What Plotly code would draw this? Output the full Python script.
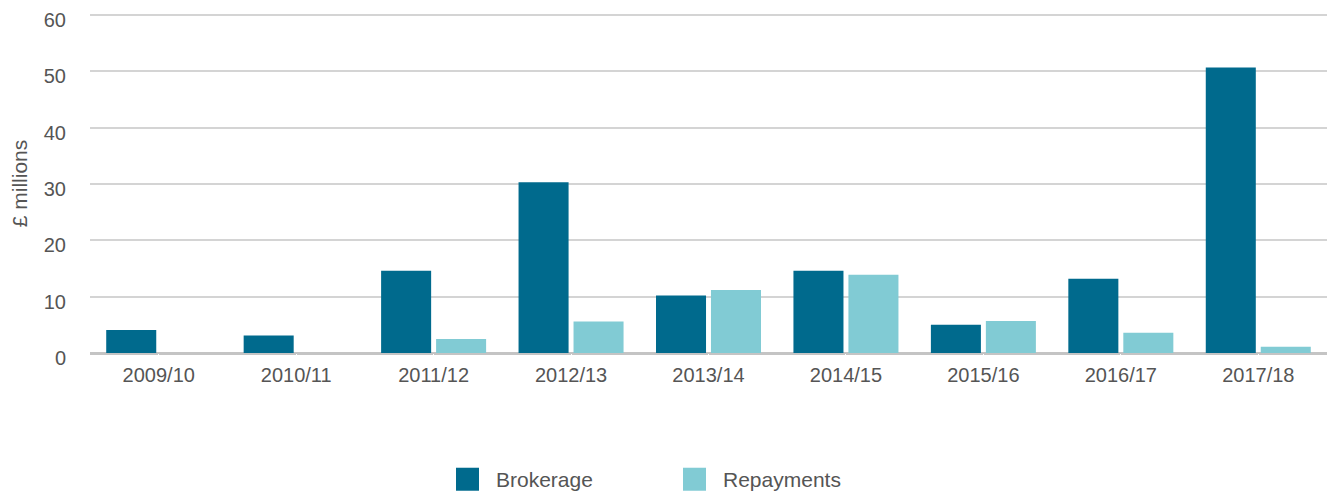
import plotly.graph_objects as go

categories = ["2009/10", "2010/11", "2011/12", "2012/13", "2013/14", "2014/15", "2015/16", "2016/17", "2017/18"]
brokerage = [4.1, 3.1, 14.6, 30.3, 10.2, 14.6, 5.0, 13.2, 50.7]
repayments = [0.0, 0.0, 2.5, 5.6, 11.2, 13.9, 5.7, 3.6, 1.1]
series_names = ["Brokerage", "Repayments"]
colors = ["#006a8d", "#81cbd4"]
y_ticks = [0, 10, 20, 30, 40, 50, 60]

FONT = "Liberation Sans"
TXT = "#555555"

fig = go.Figure()
for name, vals, col in zip(series_names, [brokerage, repayments], colors):
    fig.add_trace(go.Bar(x=categories, y=vals, name=name, marker_color=col,
                         marker_line_width=0, showlegend=False))

# page has an 8px body margin; figure coordinates = page coordinates - 8
OFF = 8
W, H = 1327, 485
Y_MAX = 60.2
L, R, T, B = 82, 8, 6.4, 139.7
pw, ph = W - L - R, H - T - B

def px_to_paper(xp, yp):
    xp -= OFF
    yp -= OFF
    return (xp - L) / pw, (H - B - yp) / ph

# manual legend (large square swatches), positions in page pixels
legend_x = [456, 683]
for name, col, lx in zip(series_names, colors, legend_x):
    x0, y0 = px_to_paper(lx, 468)
    x1, y1 = px_to_paper(lx + 23, 491)
    fig.add_shape(type="rect", xref="paper", yref="paper", x0=x0, x1=x1, y0=y1, y1=y0,
                  fillcolor=col, line_width=0)
    tx, ty = px_to_paper(lx + 38, 480)
    fig.add_annotation(xref="paper", yref="paper", x=tx, y=ty, text=name, showarrow=False,
                       xanchor="left", yanchor="middle", font=dict(family=FONT, size=21, color=TXT))

fig.update_layout(
    width=W, height=H,
    margin=dict(l=L, r=R, t=T, b=B, autoexpand=False),
    paper_bgcolor="white", plot_bgcolor="white",
    barmode="group", bargap=0.2, bargroupgap=0.09,
    font=dict(family=FONT, size=20, color=TXT),
    xaxis=dict(showgrid=False, showline=False, zeroline=False, automargin=False,
               tickfont=dict(size=20, color=TXT), ticks="outside", ticklen=4, tickcolor="white"),
    yaxis=dict(range=[0, Y_MAX], tickvals=y_ticks, showgrid=True, gridcolor="#d4d4d4", gridwidth=1.5,
               zeroline=True, zerolinecolor="#c4c4c4", zerolinewidth=3, automargin=False,
               showline=False, tickfont=dict(size=20, color=TXT),
               ticks="outside", ticklen=19, tickcolor="white",
               ticklabelshift=5, ticklabeloverflow="allow",
               title=dict(text="£ millions", font=dict(size=21, color=TXT), standoff=20)),
    showlegend=False,
)

fig.write_html("out.html")
